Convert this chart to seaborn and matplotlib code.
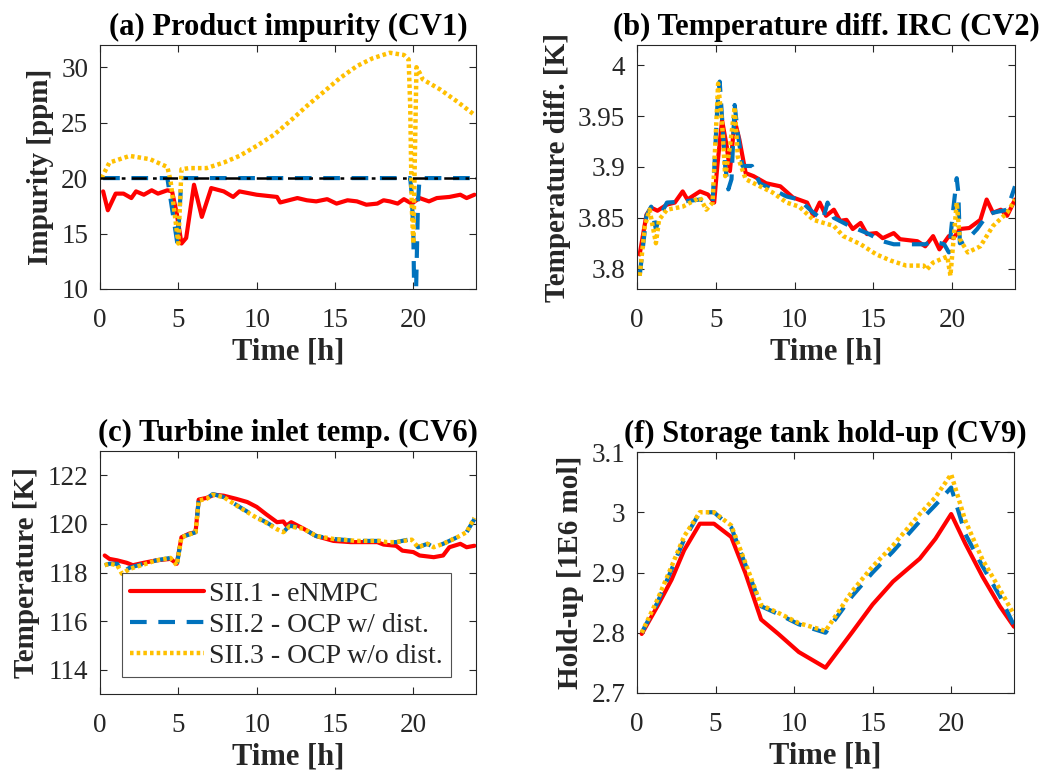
import numpy as np
import pandas as pd
import matplotlib
matplotlib.use("Agg")
import matplotlib.pyplot as plt
import seaborn as sns

# ---------------- data ----------------
# (a) Product impurity [ppm]
a_t_red = [0.2, 0.5, 1.0, 1.5, 2.0, 2.3, 2.8, 3.3, 3.7, 4.3, 4.6, 4.9, 5.2, 5.5, 6.0, 6.5, 7.1, 7.9, 8.5,
           8.9, 10.0, 11.3, 11.5, 12.6, 13.2, 13.8, 14.5, 15.1, 15.8, 16.4, 17.0, 17.7, 18.1, 18.5, 19.0,
           19.4, 19.9, 20.4, 21.0, 21.5, 22.3, 23.0, 23.4, 23.9]
a_y_red = [18.8, 17.1, 18.6, 18.6, 18.2, 18.8, 18.5, 18.9, 18.6, 18.9, 18.8, 16.8, 14.1, 14.6, 19.4, 16.5,
           19.1, 18.8, 18.3, 18.8, 18.5, 18.3, 17.8, 18.2, 18.0, 17.9, 18.1, 17.7, 18.0, 17.9, 17.6, 17.7,
           18.0, 17.9, 17.7, 18.1, 17.7, 18.2, 17.9, 18.2, 18.3, 18.5, 18.2, 18.5]
a_t_blue = [0.2, 4.3, 4.95, 5.2, 19.8, 19.9, 20.0, 20.1, 20.3, 20.4, 24.0]
a_y_blue = [20.0, 20.0, 14.0, 20.0, 20.0, 18.5, 15.0, 5.0, 18.0, 20.0, 20.0]
a_t_yel = [0.1, 0.6, 1.9, 3.2, 4.3, 4.5, 5.0, 5.2, 5.7, 6.8, 7.9, 8.9, 10.0, 11.1, 12.1, 13.2, 14.3, 15.3,
           16.4, 17.4, 18.5, 19.4, 19.7, 19.8, 19.9, 20.0, 20.2, 20.4, 20.6, 21.7, 22.8, 23.9]
a_y_yel = [20.0, 21.4, 22.0, 21.7, 21.0, 19.8, 14.1, 20.8, 20.9, 20.9, 21.4, 22.0, 22.9, 23.9, 25.1, 26.5,
           27.8, 29.0, 30.1, 30.8, 31.3, 31.1, 30.7, 26.5, 17.4, 14.1, 30.0, 29.5, 28.9, 28.0, 26.9, 25.7]
a_setpoint = 20.0

# (b) Temperature diff. IRC [K]
b_t_red = [0.17, 0.6, 0.9, 1.3, 1.9, 2.4, 2.9, 3.2, 4.0, 4.5, 4.9, 5.1, 5.4, 5.7, 5.9, 6.2, 6.5, 6.9, 7.4,
           8.2, 9.1, 9.9, 10.8, 11.2, 11.6, 12.0, 12.5, 12.9, 13.3, 13.7, 14.2, 14.6, 15.2, 15.6, 16.3,
           16.7, 17.8, 18.3, 18.8, 19.2, 19.8, 20.1, 20.5, 21.1, 21.8, 22.2, 22.6, 23.1, 23.5, 24.0]
b_y_red = [3.814, 3.853, 3.860, 3.857, 3.863, 3.865, 3.876, 3.868, 3.876, 3.873, 3.865, 3.901, 3.946, 3.920,
           3.896, 3.946, 3.927, 3.894, 3.891, 3.884, 3.881, 3.870, 3.865, 3.852, 3.865, 3.852, 3.858,
           3.847, 3.848, 3.839, 3.845, 3.834, 3.835, 3.830, 3.835, 3.829, 3.827, 3.822, 3.832, 3.819,
           3.832, 3.830, 3.839, 3.840, 3.848, 3.868, 3.855, 3.858, 3.852, 3.868]
b_t_blue = [0.17, 0.6, 0.9, 1.2, 1.4, 1.9, 2.9, 4.0, 4.8, 5.1, 5.25, 5.6, 5.8, 6.0, 6.2, 6.4, 6.7, 7.3,
            7.8, 8.6, 9.5, 10.3, 11.2, 11.8, 12.1, 12.5, 13.5, 14.6, 15.6, 16.3, 17.3, 18.3, 18.8,
            19.5, 19.8, 20.1, 20.3, 20.4, 20.5, 21.0, 21.6, 22.2, 22.6, 23.5, 24.0]
b_y_blue = [3.793, 3.852, 3.861, 3.839, 3.850, 3.865, 3.866, 3.868, 3.865, 3.959, 3.984, 3.901, 3.878,
            3.888, 3.961, 3.933, 3.901, 3.901, 3.884, 3.878, 3.871, 3.868, 3.855, 3.848, 3.865, 3.850,
            3.842, 3.835, 3.827, 3.824, 3.824, 3.824, 3.827, 3.824, 3.816, 3.861, 3.889, 3.875, 3.825,
            3.829, 3.839, 3.852, 3.855, 3.858, 3.881]
b_t_yel = [0.17, 0.5, 0.8, 1.2, 1.4, 1.9, 2.9, 4.0, 4.4, 4.8, 5.15, 5.4, 5.6, 5.9, 6.2, 6.4, 6.9, 7.8,
           8.6, 9.5, 10.3, 11.2, 12.5, 13.1, 14.2, 15.2, 16.1, 17.1, 18.2, 18.4, 18.8, 19.7, 19.9, 20.1,
           20.3, 20.5, 21.0, 21.8, 22.6, 23.5, 24.0]
b_y_yel = [3.793, 3.842, 3.858, 3.825, 3.848, 3.858, 3.861, 3.870, 3.858, 3.865, 3.982, 3.943, 3.891,
           3.920, 3.959, 3.910, 3.888, 3.881, 3.875, 3.865, 3.861, 3.848, 3.842, 3.832, 3.824, 3.814,
           3.808, 3.803, 3.803, 3.799, 3.806, 3.812, 3.793, 3.829, 3.865, 3.829, 3.816, 3.822, 3.842,
           3.855, 3.868]

# (c) Turbine inlet temp. [K]
c_t_red = [0.3, 0.6, 1.1, 1.7, 2.1, 2.8, 3.6, 4.5, 4.9, 5.2, 5.7, 6.1, 6.3, 6.8, 7.3, 7.9, 8.7, 9.4, 10.0,
           10.6, 11.3, 11.7, 11.9, 12.2, 13.0, 13.8, 14.9, 16.0, 17.7, 18.1, 18.9, 19.3, 20.0, 20.4,
           21.3, 21.9, 22.3, 23.0, 23.4, 23.9]
c_y_red = [118.7, 118.56, 118.5, 118.4, 118.3, 118.4, 118.5, 118.56, 118.36, 119.45, 119.6, 119.66, 121.0,
           121.07, 121.2, 121.16, 121.03, 120.9, 120.7, 120.4, 120.07, 120.1, 119.93, 120.07, 119.8,
           119.5, 119.3, 119.25, 119.25, 119.15, 119.1, 118.9, 118.84, 118.7, 118.63, 118.7, 119.04,
           119.18, 119.04, 119.1]
c_t_blue = [0.3, 0.6, 1.1, 1.4, 1.9, 2.8, 3.6, 4.5, 4.9, 5.2, 6.1, 6.3, 6.8, 7.2, 7.9, 8.9, 10.0, 10.6,
            11.3, 11.7, 12.1, 13.0, 13.8, 14.9, 16.4, 17.9, 18.3, 18.9, 19.9, 20.3, 20.9, 21.3, 21.9,
            22.8, 23.4, 23.9]
c_y_blue = [118.3, 118.36, 118.36, 118.0, 118.2, 118.36, 118.5, 118.6, 118.3, 119.45, 119.66, 120.96,
            121.03, 121.23, 121.1, 120.7, 120.27, 120.07, 119.8, 119.66, 119.93, 119.8, 119.5, 119.38,
            119.3, 119.3, 119.25, 119.25, 119.38, 119.04, 119.18, 119.04, 119.18, 119.45, 119.66, 120.2]
c_t_yel = c_t_blue
c_y_yel = [118.3, 118.36, 118.3, 117.95, 118.15, 118.33, 118.5, 118.6, 118.3, 119.45, 119.66, 120.96,
           121.03, 121.2, 121.1, 120.68, 120.25, 120.05, 119.78, 119.66, 119.9, 119.8, 119.5, 119.38,
           119.3, 119.3, 119.25, 119.25, 119.35, 119.04, 119.18, 119.04, 119.18, 119.45, 119.66, 120.25]

# (f) Storage tank hold-up [1E6 mol]
f_t = [0.3, 1.3, 2.2, 3.0, 4.0, 4.9, 6.0, 6.9, 7.9, 9.0, 10.3, 12.0, 13.7, 15.0, 16.3, 18.0, 19.0, 20.0,
       20.9, 22.0, 23.1, 24.0]
f_y_red = [2.798, 2.844, 2.888, 2.937, 2.981, 2.981, 2.959, 2.899, 2.822, 2.798, 2.768, 2.742, 2.801,
           2.847, 2.885, 2.923, 2.956, 2.997, 2.948, 2.893, 2.844, 2.810]
f_y_blue = [2.800, 2.850, 2.905, 2.955, 3.000, 3.000, 2.975, 2.913, 2.844, 2.831, 2.814, 2.800, 2.861,
            2.900, 2.935, 2.985, 3.012, 3.041, 2.964, 2.910, 2.861, 2.812]
f_y_yel = [2.800, 2.855, 2.910, 2.960, 3.000, 3.000, 2.978, 2.916, 2.846, 2.833, 2.816, 2.803, 2.869,
           2.910, 2.945, 2.997, 3.025, 3.063, 2.986, 2.921, 2.872, 2.830]

labels = ["SII.1 - eNMPC", "SII.2 - OCP w/ dist.", "SII.3 - OCP w/o dist."]
colors = ["#FF0000", "#0072BD", "#FFC000"]

# ---------------- style ----------------
sns.set_theme(style="ticks")
plt.rcParams["font.family"] = ["Liberation Serif", "DejaVu Serif"]

fig = plt.figure(figsize=(10.44, 7.73), dpi=100)
W, H = 1044, 773
def pos(l, t, r, b):
    return [l / W, (H - b) / H, (r - l) / W, (b - t) / H]

ax_a = fig.add_axes(pos(100, 45, 476, 289))
ax_b = fig.add_axes(pos(637, 45, 1015, 289))
ax_c = fig.add_axes(pos(100, 451, 476, 694))
ax_f = fig.add_axes(pos(637, 452, 1014, 693))

styles = [dict(ls="-", lw=3.0), dict(ls=(0, (4, 2.8)), lw=3.0), dict(ls=(0, (0.8, 0.7)), lw=3.2)]

def draw(ax, series):
    for (t, y), lab, col, st in zip(series, labels, colors, styles):
        df = pd.DataFrame({"t": t, "y": y})
        sns.lineplot(data=df, x="t", y="y", ax=ax, color=col, label=lab, estimator=None,
                     sort=False, legend=False, dash_capstyle="butt", **st)

draw(ax_a, [(a_t_red, a_y_red), (a_t_blue, a_y_blue), (a_t_yel, a_y_yel)])
ax_a.axhline(a_setpoint, color="black", ls=(0, (6, 2.5, 1.5, 2.5)), lw=1.8, zorder=5)
draw(ax_b, [(b_t_red, b_y_red), (b_t_blue, b_y_blue), (b_t_yel, b_y_yel)])
draw(ax_c, [(c_t_red, c_y_red), (c_t_blue, c_y_blue), (c_t_yel, c_y_yel)])
draw(ax_f, [(f_t, f_y_red), (f_t, f_y_blue), (f_t, f_y_yel)])

cfg = [
    (ax_a, "(a) Product impurity (CV1)", "Impurity [ppm]", (10, 32), [10, 15, 20, 25, 30],
     ["10", "15", "20", "25", "30"]),
    (ax_b, "(b) Temperature diff. IRC (CV2)", "Temperature diff. [K]", (3.78, 4.02),
     [3.8, 3.85, 3.9, 3.95, 4.0], ["3.8", "3.85", "3.9", "3.95", "4"]),
    (ax_c, "(c) Turbine inlet temp. (CV6)", "Temperature [K]", (113, 123), [114, 116, 118, 120, 122],
     ["114", "116", "118", "120", "122"]),
    (ax_f, "(f) Storage tank hold-up (CV9)", "Hold-up [1E6 mol]", (2.7, 3.1), [2.7, 2.8, 2.9, 3.0, 3.1],
     ["2.7", "2.8", "2.9", "3", "3.1"]),
]
for ax, title, ylab, ylim, yt, ytl in cfg:
    ax.set_xlim(0, 24)
    ax.set_ylim(*ylim)
    ax.set_xticks([0, 5, 10, 15, 20])
    ax.set_xticklabels(["0", "5", "10", "15", "20"])
    ax.set_yticks(yt)
    ax.set_yticklabels(ytl)
    ax.set_title(title, fontsize=22, fontweight="bold", color="black", pad=7)
    ax.set_xlabel("Time [h]", fontsize=22, fontweight="bold", color="#262626", labelpad=3)
    ax.set_ylabel(ylab, fontsize=21, fontweight="bold", color="#262626", labelpad=5)
    ax.tick_params(direction="in", top=True, right=True, labelsize=19.5, colors="#262626",
                   length=5, width=0.8)
    ax.tick_params(axis="x", pad=14)
    ax.tick_params(axis="y", pad=8.5)
    for sp in ax.spines.values():
        sp.set_visible(True)
        sp.set_color("#262626")
        sp.set_linewidth(0.8)

handles, labs = ax_c.get_legend_handles_labels()
leg = ax_c.legend(handles, labs, loc="lower left", bbox_to_anchor=(0.058, 0.07), fontsize=20,
                  frameon=True, fancybox=False, edgecolor="#262626", handlelength=2.65,
                  borderpad=0.3, labelspacing=0.2, handletextpad=0.2, borderaxespad=0)
leg.get_frame().set_linewidth(0.8)

fig.savefig("out.png", dpi=100)
